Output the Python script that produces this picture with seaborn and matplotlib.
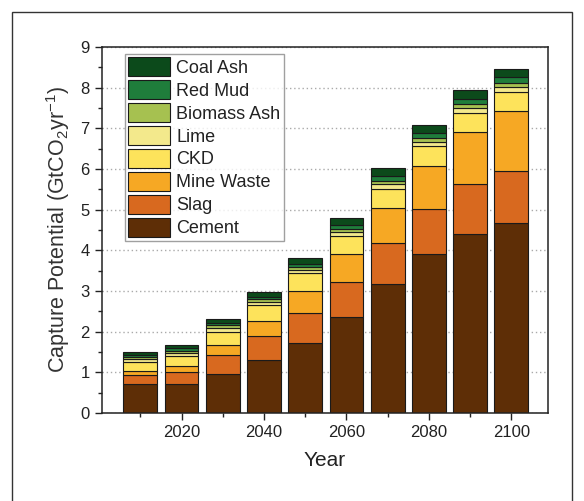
"""Stacked capture potential by material, 2010-2100."""

import matplotlib
matplotlib.use("Agg")
import matplotlib.pyplot as plt
from matplotlib.patches import Rectangle
import pandas as pd
import seaborn as sns

years = [2010, 2020, 2030, 2040, 2050, 2060, 2070, 2080, 2090, 2100]

# GtCO2 / yr
cement = [0.70, 0.70, 0.96, 1.30, 1.73, 2.37, 3.17, 3.92, 4.40, 4.66]
slag = [0.23, 0.31, 0.47, 0.60, 0.73, 0.85, 1.01, 1.10, 1.22, 1.28]
mine_waste = [0.10, 0.13, 0.25, 0.37, 0.53, 0.68, 0.87, 1.05, 1.30, 1.49]
ckd = [0.23, 0.26, 0.32, 0.38, 0.44, 0.45, 0.47, 0.49, 0.45, 0.46]
lime = [0.07, 0.07, 0.08, 0.08, 0.08, 0.10, 0.10, 0.11, 0.12, 0.13]
biomass_ash = [0.05, 0.06, 0.07, 0.06, 0.07, 0.08, 0.09, 0.10, 0.10, 0.10]
red_mud = [0.05, 0.07, 0.07, 0.07, 0.08, 0.10, 0.12, 0.12, 0.14, 0.15]
coal_ash = [0.07, 0.08, 0.10, 0.12, 0.14, 0.17, 0.20, 0.20, 0.22, 0.18]

materials = ["Coal Ash", "Red Mud", "Biomass Ash", "Lime", "CKD",
             "Mine Waste", "Slag", "Cement"]
series = [coal_ash, red_mud, biomass_ash, lime, ckd, mine_waste, slag, cement]
colors = ["#0c4a1b", "#1f7d3b", "#a6c150", "#f3e98c", "#fde35b",
          "#f6a824", "#d8691f", "#5e2e06"]

rows = []
for name, vals in zip(materials, series):
    for yr, v in zip(years, vals):
        rows.append({"Year": yr, "Material": name, "Value": v})
df = pd.DataFrame(rows)

sns.set_theme(style="ticks")
plt.rcParams["font.family"] = ["Liberation Sans", "DejaVu Sans"]
plt.rcParams["mathtext.fontset"] = "custom"
plt.rcParams["mathtext.rm"] = "Liberation Sans"
plt.rcParams["mathtext.default"] = "regular"
text_color = "#222222"

fig = plt.figure(figsize=(5.84, 5.01), dpi=100)
ax = fig.add_axes([0.174, 0.176, 0.765, 0.730])

sns.histplot(
    data=df,
    x="Year",
    weights="Value",
    hue="Material",
    hue_order=materials,
    palette=dict(zip(materials, colors)),
    multiple="stack",
    binwidth=10,
    binrange=(2005, 2105),
    shrink=0.82,
    alpha=1,
    edgecolor="#1a1a1a",
    linewidth=0.8,
    ax=ax,
)

ax.set_xlim(2000.6, 2109)
ax.set_ylim(0, 9)
ax.set_xticks([2020, 2040, 2060, 2080, 2100])
ax.set_xticks([2010, 2030, 2050, 2070, 2090], minor=True)
ax.set_yticks(range(0, 10))
ax.set_yticks([i + 0.5 for i in range(9)], minor=True)
ax.tick_params(axis="both", which="major", direction="out", length=5,
               width=1, labelsize=12, colors=text_color)
ax.tick_params(axis="both", which="minor", direction="out", length=3,
               width=1, colors=text_color)
ax.yaxis.grid(True, which="major", color="#aaaaaa", linestyle=(0, (1, 2)),
              linewidth=1)
ax.set_axisbelow(True)
for spine in ax.spines.values():
    spine.set_visible(True)
    spine.set_color("#222222")
    spine.set_linewidth(1.1)

ax.set_xlabel("Year", fontsize=15, color=text_color, labelpad=8)
ax.set_ylabel("Capture Potential (GtCO$_2$yr$^{-1}$)", fontsize=15.5,
              color="#333333", labelpad=6)

sns.move_legend(
    ax,
    "upper left",
    bbox_to_anchor=(0.052, 0.982),
    title=None,
    fontsize=13,
    frameon=True,
    fancybox=False,
    edgecolor="#888888",
    borderpad=0.2,
    borderaxespad=0,
    labelspacing=0.2,
    handlelength=2.3,
    handleheight=1.2,
    handletextpad=0.35,
)
leg = ax.get_legend()
leg.get_frame().set_linewidth(1)
for t in leg.get_texts():
    t.set_color(text_color)

# outer frame around the panel
fig.patches.append(Rectangle((12 / 584, -0.2), 560 / 584, 1.2 - 12 / 501,
                             transform=fig.transFigure, fill=False,
                             edgecolor="#333333", linewidth=1))

plt.savefig("out.png", dpi=100)
plt.close()
